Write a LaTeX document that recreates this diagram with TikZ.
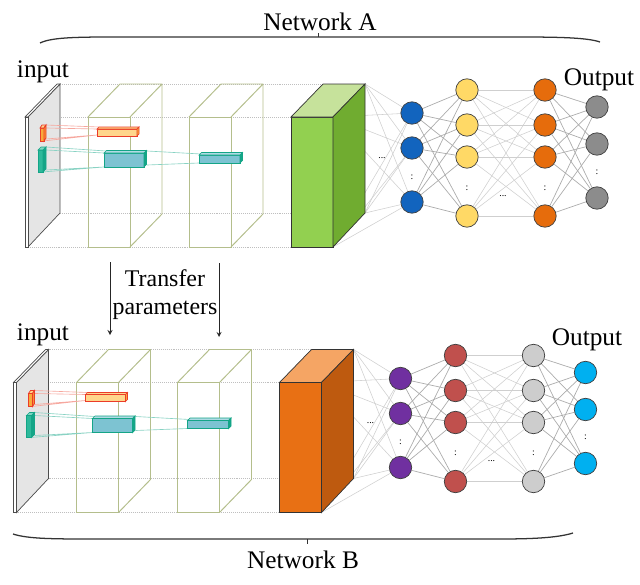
\documentclass[tikz,border=0pt]{standalone}
\usepackage{fontspec}
\setmainfont{Liberation Serif}
\usetikzlibrary{arrows}

\definecolor{convedge}{RGB}{180,190,140}
\definecolor{filred}{RGB}{235,60,40}
\definecolor{filorange}{RGB}{248,170,60}
\definecolor{filyellow}{RGB}{255,214,140}
\definecolor{filteal}{RGB}{20,165,135}
\definecolor{filtealfill}{RGB}{45,185,155}
\definecolor{filblue}{RGB}{125,195,210}
\definecolor{grnfront}{RGB}{146,208,80}
\definecolor{grnside}{RGB}{112,172,48}
\definecolor{grntop}{RGB}{198,226,155}
\definecolor{orgfront}{RGB}{232,112,20}
\definecolor{orgside}{RGB}{190,90,15}
\definecolor{orgtop}{RGB}{245,165,100}
\definecolor{nblue}{RGB}{18,100,190}
\definecolor{nyellow}{RGB}{255,217,102}
\definecolor{norange}{RGB}{230,108,12}
\definecolor{ngray}{RGB}{140,140,140}
\definecolor{npurple}{RGB}{112,48,160}
\definecolor{nred}{RGB}{192,80,77}
\definecolor{nlight}{RGB}{205,205,205}
\definecolor{ncyan}{RGB}{0,176,240}

\pgfdeclarelayer{bg}
\pgfsetlayers{bg,main}

\tikzset{
	neuron/.style={circle,draw=black!75,line width=0.5pt,minimum size=0.56cm,inner sep=0pt},
	guide/.style={densely dotted,gray!50,line width=0.4pt},
	convbox/.style={draw=convedge,line width=0.7pt},
	blockedge/.style={draw=black!80,line width=0.5pt},
	link/.style={gray!65,line width=0.5pt},
	faint/.style={gray!38,line width=0.4pt},
	redray/.style={filred!45,line width=0.45pt},
	tealray/.style={filteal!50,line width=0.45pt},
	tinydots/.style={font=\fontsize{7}{7}\selectfont,inner sep=0pt},
	lbl/.style={font=\fontsize{18}{20}\selectfont,inner sep=0pt}
}

\newcommand{\convnet}[8]{%
	\draw[guide] (60,84) -- (323,84) (28,117) -- (291,117) (60,213) -- (323,213) (28,247) -- (291,247);
	\draw[black!70,fill=gray!20,line width=0.5pt] (28,117) -- (60,84) -- (60,213) -- (28,247) -- cycle;
	\draw[black!70,fill=white,line width=0.5pt] (25,117) -- (57,84) -- (60,84) -- (28,117) -- cycle;
	\draw[black!70,fill=white,line width=0.5pt] (25,117) rectangle (28,247);
	\foreach \x in {88,189}{
		\draw[convbox] (\x,117) rectangle +(42,130);
		\draw[convbox] (\x,117) -- +(32,-33) -- +(74,-33) -- +(74,97) -- +(42,130) (\x+42,117) -- +(32,-33);
	}
	\draw[redray] (46,125) -- (99,127) (46,128) -- (97,129) (46,139) -- (97,135) (43,141) -- (97,135);
	\draw[filred,fill=filorange,line width=0.5pt] (40,128) rectangle (44,141);
	\draw[filred,fill=filyellow,line width=0.5pt] (40,128) -- (42,125) -- (46,125) -- (44,128) -- cycle;
	\draw[filred,fill=filorange!85!red,line width=0.5pt] (44,128) -- (46,125) -- (46,138) -- (44,141) -- cycle;
	\draw[filred,fill=filyellow,line width=0.5pt] (97,129) rectangle (137,136);
	\draw[filred,fill=filyellow,line width=0.5pt] (97,129) -- (99,127) -- (139,127) -- (137,129) -- cycle;
	\draw[filred,fill=filorange,line width=0.5pt] (137,129) -- (139,127) -- (139,134) -- (137,136) -- cycle;
	\draw[tealray] (46,147) -- (106,151) (46,150) -- (104,153) (46,170) -- (104,167) (42,172) -- (104,167)
		(147,151) -- (201,154) (147,165) -- (199,163);
	\draw[filteal,fill=filtealfill,line width=0.5pt] (38,150) rectangle (43,172);
	\draw[filteal,fill=filtealfill!60,line width=0.5pt] (38,150) -- (41,147) -- (46,147) -- (43,150) -- cycle;
	\draw[filteal,fill=filteal,line width=0.5pt] (43,150) -- (46,147) -- (46,169) -- (43,172) -- cycle;
	\foreach \a/\b/\c/\d in {104/144/153/167,199/240/155/163}{
		\draw[filteal,fill=filblue,line width=0.5pt] (\a,\c) rectangle (\b,\d);
		\draw[filteal,fill=filblue!60,line width=0.5pt] (\a,\c) -- (\a+2.5,\c-2.5) -- (\b+2.5,\c-2.5) -- (\b,\c) -- cycle;
		\draw[filteal,fill=filteal,line width=0.5pt] (\b,\c) -- (\b+2.5,\c-2.5) -- (\b+2.5,\d-2.5) -- (\b,\d) -- cycle;
	}
	\draw[blockedge,fill=#2] (291,117) rectangle (333,247);
	\draw[blockedge,fill=#4] (291,117) -- (323,84) -- (365,84) -- (333,117) -- cycle;
	\draw[blockedge,fill=#3] (333,117) -- (365,84) -- (365,213) -- (333,247) -- cycle;
	\coordinate (#1-b1) at (365,84);
	\coordinate (#1-b2) at (333,117);
	\coordinate (#1-b3) at (365,213);
	\coordinate (#1-b4) at (333,247);
	\foreach \y [count=\i] in {113,148,202} \node[neuron,fill=#5] (#1-1-\i) at (412,\y) {};
	\foreach \y [count=\i] in {90,125,157,216}{
		\node[neuron,fill=#6] (#1-2-\i) at (467,\y) {};
		\node[neuron,fill=#7] (#1-3-\i) at (545,\y) {};
	}
	\foreach \y [count=\i] in {107,144,198} \node[neuron,fill=#8] (#1-4-\i) at (597,\y) {};
	\node[tinydots] (#1-e1) at (382,158) {...};
	\node[tinydots] (#1-e2) at (503,196) {...};
	\foreach \x/\y [count=\i] in {412/177,467/188,545/188,597/172} \node[tinydots] (#1-v\i) at (\x,\y) {:};
	\begin{pgfonlayer}{bg}
		\foreach \b in {1,...,4} \foreach \j in {1,2,3} \draw[faint] (#1-b\b) -- (#1-1-\j);
		\foreach \i in {1,2,3} \foreach \j in {1,...,4} \draw[link] (#1-1-\i) -- (#1-2-\j);
		\foreach \i in {1,...,4} \foreach \j in {1,...,4} \draw[faint] (#1-2-\i) -- (#1-3-\j);
		\foreach \i in {1,...,4} \foreach \j in {1,2,3} \draw[link] (#1-3-\i) -- (#1-4-\j);
	\end{pgfonlayer}
}

\begin{document}
\begin{tikzpicture}[x=0.025cm,y=-0.025cm]
	\useasboundingbox (0,0) rectangle (640,585);
	\convnet{A}{grnfront}{grnside}{grntop}{nblue}{nyellow}{norange}{ngray}
	\begin{scope}[shift={(-11.5,265.5)}]
		\convnet{B}{orgfront}{orgside}{orgtop}{npurple}{nred}{nlight}{ncyan}
	\end{scope}
	\node[lbl] (netA) at (320,22) {Network A};
	\node[lbl] (inA) at (43,72) {input};
	\node[lbl] (outA) at (599,80) {Output};
	\node[lbl] (inB) at (43,335) {input};
	\node[lbl] (outB) at (587,340) {Output};
	\node[lbl] (netB) at (303,560) {Network B};
	\node[lbl,font=\fontsize{17}{20}\selectfont,align=center] (xfer) at (165,295) {Transfer\\parameters};
	\coordinate (t1) at (110,262);
	\coordinate (t2) at (110,335);
	\coordinate (t3) at (219,263);
	\coordinate (t4) at (219,337);
	\path[-stealth,black!85,line width=0.6pt]
		(t1) edge (t2)
		(t3) edge (t4);
	\draw[black!80,line width=0.9pt] (40,43) .. controls (52,37) and (80,37) .. (120,37) -- (520,37) .. controls (565,37) and (588,38) .. (600,42);
	\draw[black!80,line width=0.6pt] (318,37) -- (318,33);
	\draw[black!80,line width=0.9pt] (13,534) .. controls (28,539) and (55,539) .. (95,539) -- (500,539) .. controls (540,539) and (560,537) .. (573,533);
	\draw[black!80,line width=0.6pt] (307,539) -- (307,544);
\end{tikzpicture}
\end{document}
